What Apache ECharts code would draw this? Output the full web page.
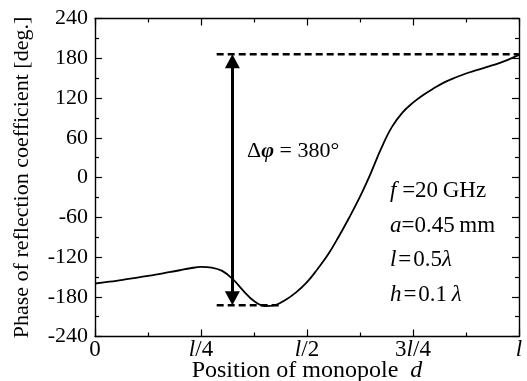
<!DOCTYPE html>
<html>
<head>
<meta charset="utf-8">
<script src="https://cdn.jsdelivr.net/npm/echarts@6/dist/echarts.min.js"></script>
<style>
  html, body { margin: 0; padding: 0; background: #fff; }
  #chart { width: 527px; height: 381px; }
</style>
</head>
<body>
<div id="chart"></div>
<script>
// position of monopole, in units of l
const positions = [0, 0.025, 0.05, 0.075, 0.1, 0.125, 0.15, 0.175, 0.2, 0.225, 0.25, 0.275, 0.3, 0.325,
  0.35, 0.375, 0.4, 0.425, 0.45, 0.475, 0.5, 0.525, 0.55, 0.575, 0.6, 0.625, 0.65, 0.675, 0.7,
  0.725, 0.75, 0.775, 0.8, 0.825, 0.85, 0.875, 0.9, 0.925, 0.95, 0.975, 1.0];
// phase of reflection coefficient [deg.]
const phases = [-160, -158, -156, -153.5, -151, -148.5, -146, -143, -140, -137, -135, -136, -141, -153.5,
  -171, -186.5, -194, -192.5, -184.5, -173, -158, -138, -116, -89, -60, -29, 6, 44, 76,
  98, 113, 125, 135, 144, 151, 157, 162, 167, 172, 178, 185];

const xTickValues = [0, 0.25, 0.5, 0.75, 1];
const xTickLabels = ['0', '{i|l}/4', '{i|l}/2', '3{i|l}/4', '{i|l}'];

const phaseMax = 186;
const phaseMin = -193;
const arrowX = 0.324;
const dashStart = 0.287;
const dashEndLow = 0.435;

const serif = "'Liberation Serif', 'Times New Roman', serif";
const fs = 22;

const chart = echarts.init(document.getElementById('chart'));

const frameAxis = {
  axisLine: { show: true, onZero: false, lineStyle: { color: '#000', width: 1.4 } },
  axisTick: { show: true, inside: true, length: 7, lineStyle: { color: '#000', width: 1.2 } },
  minorTick: { show: true, splitNumber: 2, length: 4, lineStyle: { color: '#000', width: 1.2 } },
  splitLine: { show: false }
};

const option = {
  animation: false,
  backgroundColor: '#fff',
  grid: { left: 95, top: 18.5, width: 424, height: 318, outerBoundsMode: 'none' },
  xAxis: [
    Object.assign({
      type: 'value', min: 0, max: 1, interval: 0.25, position: 'bottom',
      name: 'Position of monopole  {i|d}',
      nameLocation: 'middle', nameGap: 22, nameMoveOverlap: false,
      nameTextStyle: {
        color: '#000', fontFamily: serif, fontSize: 24,
        rich: { i: { fontStyle: 'italic', fontFamily: serif, fontSize: 24, color: '#000' } }
      },
      axisLabel: {
        color: '#000', fontFamily: serif, fontSize: 23, margin: 2,
        formatter: v => {
          const k = xTickValues.findIndex(t => Math.abs(t - v) < 1e-6);
          return k >= 0 ? xTickLabels[k] : '';
        },
        rich: { i: { fontStyle: 'italic', fontFamily: serif, fontSize: 23, color: '#000' } }
      }
    }, frameAxis),
    Object.assign({
      type: 'value', min: 0, max: 1, interval: 0.25, position: 'top',
      axisLabel: { show: false }
    }, frameAxis)
  ],
  yAxis: [
    Object.assign({
      type: 'value', min: -240, max: 240, interval: 60, position: 'left',
      name: 'Phase of reflection coefficient [deg.]',
      nameLocation: 'middle', nameGap: 62, nameRotate: 90, nameMoveOverlap: false,
      nameTextStyle: { color: '#000', fontFamily: serif, fontSize: fs },
      axisLabel: { color: '#000', fontFamily: serif, fontSize: fs, margin: 7 }
    }, frameAxis),
    Object.assign({
      type: 'value', min: -240, max: 240, interval: 60, position: 'right',
      axisLabel: { show: false }
    }, frameAxis)
  ],
  graphic: [
    {
      type: 'text', x: 247, y: 151,
      style: {
        text: '{s|Δ}{p|φ}{s| = 380°}', verticalAlign: 'middle', fill: '#000',
        rich: {
          s: { fontFamily: serif, fontSize: fs, color: '#000' },
          p: { fontFamily: serif, fontSize: fs, fontStyle: 'italic', fontWeight: 'bold', color: '#000' }
        }
      }
    },
    ...[
      '{i|f} =20\u2009GHz',
      '{i|a}=0.45\u2009mm',
      '{i|l}\u200a=\u200a0.5{i|λ}',
      '{i|h}\u200a=\u200a0.1\u2009{i|λ}'
    ].map((t, k) => ({
      type: 'text', x: 390, y: 191 + k * 34.7,
      style: {
        text: '{s|' + t.replace(/\{i\|([^}]*)\}/g, '}{i|$1}{s|') + '}',
        verticalAlign: 'middle', fill: '#000',
        rich: {
          s: { fontFamily: serif, fontSize: 23, color: '#000' },
          i: { fontFamily: serif, fontSize: 23, fontStyle: 'italic', color: '#000' }
        }
      }
    }))
  ],
  series: [
    {
      type: 'line',
      data: positions.map((x, k) => [x, phases[k]]),
      smooth: 0.4,
      symbol: 'none',
      lineStyle: { color: '#000', width: 1.8 },
      markLine: {
        silent: true,
        symbol: ['triangle', 'triangle'],
        symbolSize: [15, 14],
        label: { show: false },
        lineStyle: { color: '#000', width: 3, type: 'solid' },
        data: [[
          { coord: [arrowX, phaseMin + 10.6] },
          { coord: [arrowX, phaseMax - 10.6] }
        ]]
      }
    },
    {
      type: 'line',
      data: [[dashStart, phaseMax], [1, phaseMax]],
      symbol: 'none',
      lineStyle: { color: '#000', width: 2.5, type: [7, 4] }
    },
    {
      type: 'line',
      data: [[dashStart, phaseMin], [dashEndLow, phaseMin]],
      symbol: 'none',
      lineStyle: { color: '#000', width: 2.5, type: [7, 4] }
    }
  ]
};

chart.setOption(option);
</script>
</body>
</html>
